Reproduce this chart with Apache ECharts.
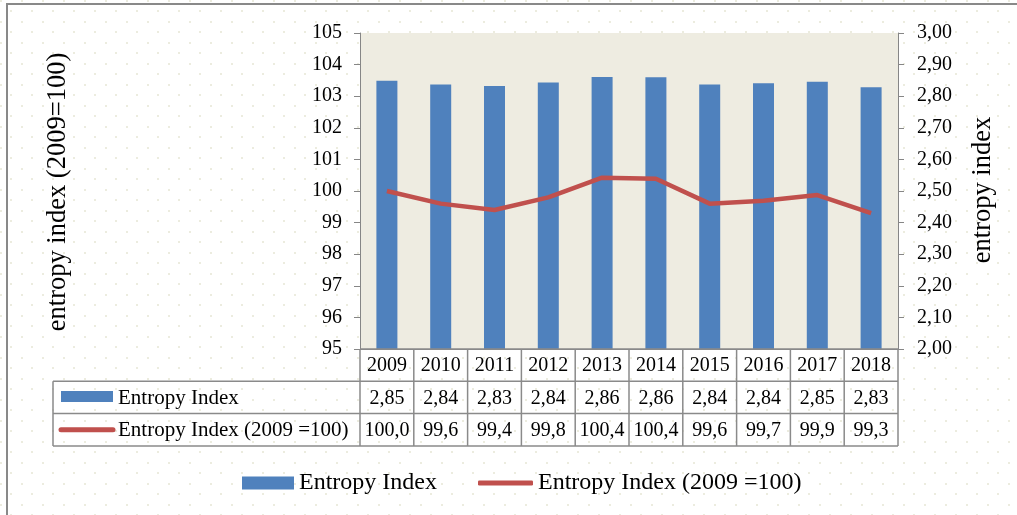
<!DOCTYPE html>
<html>
<head>
<meta charset="utf-8">
<script src="https://cdn.jsdelivr.net/npm/echarts@6/dist/echarts.min.js"></script>
<style>
    html, body { margin: 0; padding: 0; background: #fff; }
    #chart { width: 1017px; height: 515px; }
</style>
</head>
<body>
<div id="chart"></div>
<script>
var years = ['2009', '2010', '2011', '2012', '2013', '2014', '2015', '2016', '2017', '2018'];
var entropyIndex = [2.849, 2.837, 2.832, 2.843, 2.861, 2.860, 2.837, 2.841, 2.846, 2.828];
var entropyIndex2009 = [100.0, 99.6, 99.4, 99.8, 100.42, 100.39, 99.6, 99.69, 99.87, 99.3];
var barName = 'Entropy Index';
var lineName = 'Entropy Index (2009 =100)';

var FONT = '"Liberation Serif", "Times New Roman", serif';
var GRID_L = 360, GRID_R = 898, GRID_T = 33, GRID_B = 349;
var ROW_H = 32.3;
var BLUE = '#4F81BD', RED = '#C0504D', LINE_GRAY = '#8A8A8A';

function comma(v, d) {
    return v.toFixed(d).replace('.', ',');
}

function dotPattern() {
    var c = document.createElement('canvas');
    c.width = 21; c.height = 21;
    var ctx = c.getContext('2d');
    ctx.fillStyle = '#fff';
    ctx.fillRect(0, 0, 21, 21);
    ctx.fillStyle = '#ECECDF';
    ctx.fillRect(0, 0, 2, 2);
    ctx.fillRect(10, 10, 2, 2);
    return c;
}

function buildTable() {
    var els = [];
    var colW = (GRID_R - GRID_L) / years.length;
    var y0 = GRID_B, y1 = y0 + ROW_H, y2 = y1 + ROW_H, y3 = y2 + ROW_H;
    var ls = { stroke: LINE_GRAY, lineWidth: 1.5 };
    // horizontal lines
    els.push({ type: 'line', shape: { x1: GRID_L, y1: y0, x2: GRID_R, y2: y0 }, style: ls, z: 10 });
    els.push({ type: 'line', shape: { x1: 53, y1: y1, x2: GRID_R, y2: y1 }, style: ls, z: 10 });
    els.push({ type: 'line', shape: { x1: 53, y1: y2, x2: GRID_R, y2: y2 }, style: ls, z: 10 });
    els.push({ type: 'line', shape: { x1: 53, y1: y3, x2: GRID_R, y2: y3 }, style: ls, z: 10 });
    els.push({ type: 'line', shape: { x1: 53, y1: y1, x2: 53, y2: y3 }, style: ls, z: 10 });
    for (var k = 0; k <= years.length; k++) {
        var x = GRID_L + k * colW;
        els.push({ type: 'line', shape: { x1: x, y1: y0, x2: x, y2: y3 }, style: ls, z: 10 });
    }
    for (var i = 0; i < years.length; i++) {
        var cx = GRID_L + (i + 0.5) * colW;
        var rows = [years[i], comma(entropyIndex[i], 2), comma(entropyIndex2009[i], 1)];
        for (var r = 0; r < 3; r++) {
            els.push({
                type: 'text', x: cx, y: y0 + (r + 0.5) * ROW_H + 1, z: 11,
                style: { text: rows[r], font: '20px ' + FONT, fill: '#000', align: 'center', verticalAlign: 'middle' }
            });
        }
    }
    // row keys
    els.push({ type: 'rect', shape: { x: 61, y: 391, width: 52, height: 11 }, style: { fill: BLUE }, z: 11 });
    els.push({ type: 'text', x: 118, y: y1 + ROW_H / 2 + 1, z: 11,
        style: { text: barName, font: '21px ' + FONT, fill: '#000', verticalAlign: 'middle' } });
    els.push({ type: 'line', shape: { x1: 61, y1: y2 + ROW_H / 2, x2: 113, y2: y2 + ROW_H / 2 },
        style: { stroke: RED, lineWidth: 5, lineCap: 'round' }, z: 11 });
    els.push({ type: 'text', x: 118, y: y2 + ROW_H / 2 + 1, z: 11,
        style: { text: lineName, font: '21px ' + FONT, fill: '#000', verticalAlign: 'middle' } });
    return els;
}

var chart = echarts.init(document.getElementById('chart'), null, { renderer: 'canvas' });

var option = {
    backgroundColor: { image: dotPattern(), repeat: 'repeat' },
    animation: false,
    textStyle: { fontFamily: FONT },
    grid: {
        left: GRID_L, top: GRID_T, width: GRID_R - GRID_L, height: GRID_B - GRID_T,
        show: true, backgroundColor: '#EEECE1', borderWidth: 0
    },
    legend: [{
        data: [{ name: barName, icon: 'rect' }],
        left: 242, top: 471, padding: 0, itemWidth: 52, itemHeight: 13, itemGap: 6,
        textStyle: { fontFamily: FONT, fontSize: 24, color: '#000' }
    }, {
        data: [{ name: lineName, icon: 'roundRect' }],
        left: 478, top: 471, padding: 0, itemWidth: 55, itemHeight: 5, itemGap: 6,
        textStyle: { fontFamily: FONT, fontSize: 24, color: '#000' }
    }],
    xAxis: {
        type: 'category',
        data: years,
        axisLine: { show: true, lineStyle: { color: '#868686', width: 1 } },
        axisTick: { show: false },
        axisLabel: { show: false },
        splitLine: { show: false }
    },
    yAxis: [{
        type: 'value', min: 95, max: 105, interval: 1, position: 'left',
        axisLine: { show: true, lineStyle: { color: '#868686' } },
        axisTick: { show: true, length: 6, lineStyle: { color: '#868686' } },
        axisLabel: { margin: 18, fontFamily: FONT, fontSize: 20, color: '#000' },
        splitLine: { show: false }
    }, {
        type: 'value', min: 2, max: 3, interval: 0.1, position: 'right',
        axisLine: { show: true, lineStyle: { color: '#868686' } },
        axisTick: { show: true, length: 6, lineStyle: { color: '#868686' } },
        axisLabel: {
            margin: 19, fontFamily: FONT, fontSize: 20, color: '#000',
            formatter: function (v) { return comma(v, 2); }
        },
        splitLine: { show: false }
    }],
    series: [{
        name: barName,
        type: 'bar',
        yAxisIndex: 1,
        data: entropyIndex,
        barWidth: 21,
        itemStyle: { color: BLUE }
    }, {
        name: lineName,
        type: 'line',
        yAxisIndex: 0,
        data: entropyIndex2009,
        symbol: 'none',
        lineStyle: { color: RED, width: 4.5 },
        itemStyle: { color: RED },
        z: 3
    }],
    graphic: [{
        type: 'rect', shape: { x: 7, y: 4, width: 1030, height: 530 },
        style: { fill: 'none', stroke: '#898989', lineWidth: 2 }, silent: true
    }, {
        type: 'text', x: 58, y: 192, rotation: Math.PI / 2,
        style: { text: 'entropy index (2009=100)', font: '26.5px ' + FONT, fill: '#000', align: 'center', verticalAlign: 'middle' }
    }, {
        type: 'text', x: 983, y: 190, rotation: Math.PI / 2,
        style: { text: 'entropy index', font: '26.5px ' + FONT, fill: '#000', align: 'center', verticalAlign: 'middle' }
    }].concat(buildTable())
};

chart.setOption(option);
</script>
</body>
</html>
